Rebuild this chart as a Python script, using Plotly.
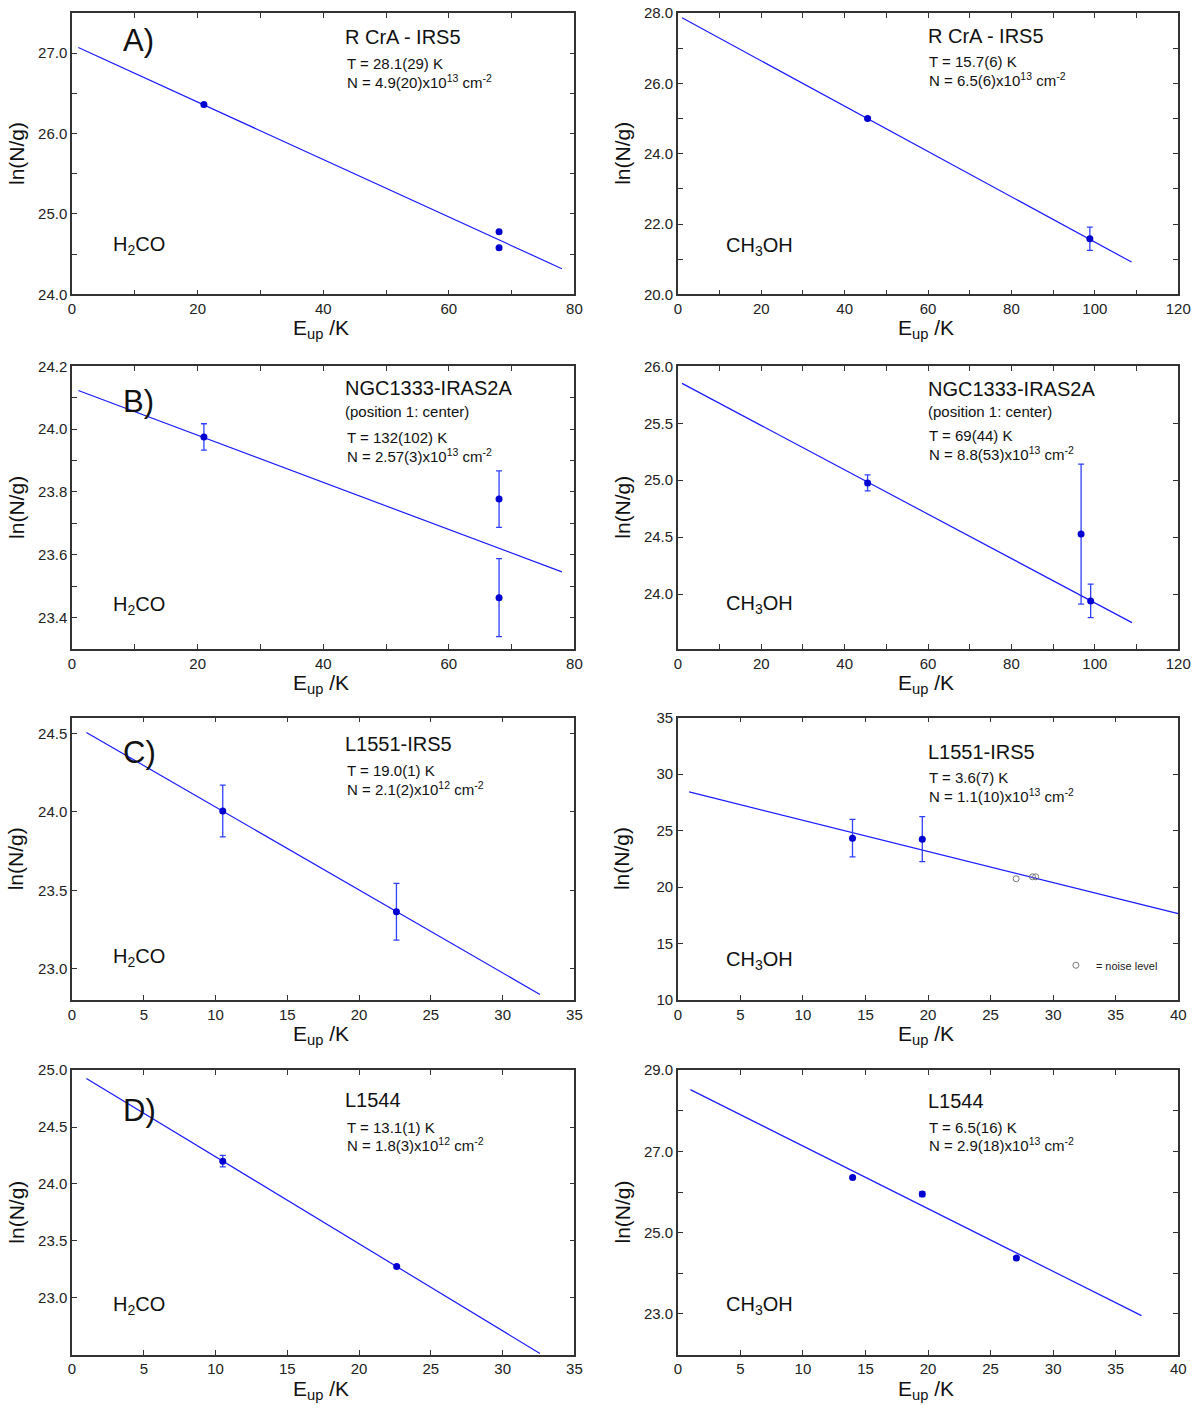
import plotly.graph_objects as go

W, H = 1200, 1408

# ---------------- data ----------------
# A) R CrA - IRS5
rcra_h2co_eup = [21.0, 68.0, 68.0]
rcra_h2co_lng = [26.36, 24.78, 24.58]
rcra_h2co_err = [0.01, 0.01, 0.01]
rcra_h2co_fit_eup = [1.0, 78.0]
rcra_h2co_fit_lng = [27.07, 24.32]

rcra_ch3oh_eup = [45.5, 98.8]
rcra_ch3oh_lng = [25.0, 21.58]
rcra_ch3oh_err = [0.03, 0.33]
rcra_ch3oh_fit_eup = [1.0, 108.8]
rcra_ch3oh_fit_lng = [27.86, 20.92]

# B) NGC1333-IRAS2A (position 1: center)
iras2a_h2co_eup = [21.0, 68.0, 68.0]
iras2a_h2co_lng = [23.975, 23.777, 23.463]
iras2a_h2co_err = [0.042, 0.09, 0.124]
iras2a_h2co_fit_eup = [1.0, 78.0]
iras2a_h2co_fit_lng = [24.123, 23.545]

iras2a_ch3oh_eup = [45.5, 96.7, 99.0]
iras2a_ch3oh_lng = [24.976, 24.527, 23.94]
iras2a_ch3oh_err = [0.07, 0.615, 0.147]
iras2a_ch3oh_fit_eup = [1.0, 108.9]
iras2a_ch3oh_fit_lng = [25.85, 23.75]

# C) L1551-IRS5
l1551_h2co_eup = [10.5, 22.6]
l1551_h2co_lng = [24.006, 23.364]
l1551_h2co_err = [0.165, 0.181]
l1551_h2co_fit_eup = [1.0, 32.6]
l1551_h2co_fit_lng = [24.506, 22.837]

l1551_ch3oh_eup = [13.96, 19.54]
l1551_ch3oh_lng = [24.34, 24.25]
l1551_ch3oh_err = [1.66, 1.99]
l1551_ch3oh_noise_eup = [27.04, 28.35, 28.6]
l1551_ch3oh_noise_lng = [20.75, 20.92, 20.92]
l1551_ch3oh_fit_eup = [0.9, 40.0]
l1551_ch3oh_fit_lng = [28.43, 17.66]

# D) L1544
l1544_h2co_eup = [10.5, 22.62]
l1544_h2co_lng = [24.2, 23.275]
l1544_h2co_err = [0.05, 0.01]
l1544_h2co_fit_eup = [1.0, 32.6]
l1544_h2co_fit_lng = [24.927, 22.51]

l1544_ch3oh_eup = [13.97, 19.54, 27.06]
l1544_ch3oh_lng = [26.36, 25.95, 24.38]
l1544_ch3oh_err = [0.03, 0.06, 0.03]
l1544_ch3oh_fit_eup = [1.0, 37.06]
l1544_ch3oh_fit_lng = [28.52, 22.96]

# text
sources = ["R CrA - IRS5", "NGC1333-IRAS2A", "L1551-IRS5", "L1544"]
panel_letters = ["A)", "B)", "C)", "D)"]
h2co_T = ["28.1(29)", "132(102)", "19.0(1)", "13.1(1)"]
h2co_N = ["4.9(20)x10<sup>13</sup>", "2.57(3)x10<sup>13</sup>",
          "2.1(2)x10<sup>12</sup>", "1.8(3)x10<sup>12</sup>"]
ch3oh_T = ["15.7(6)", "69(44)", "3.6(7)", "6.5(16)"]
ch3oh_N = ["6.5(6)x10<sup>13</sup>", "8.8(53)x10<sup>13</sup>",
           "1.1(10)x10<sup>13</sup>", "2.9(18)x10<sup>13</sup>"]

# tick labels
x_ticks_80 = [0, 20, 40, 60, 80]
x_ticks_120 = [0, 20, 40, 60, 80, 100, 120]
x_ticks_35 = [0, 5, 10, 15, 20, 25, 30, 35]
x_ticks_40 = [0, 5, 10, 15, 20, 25, 30, 35, 40]
y_ticks = [
    [24.0, 25.0, 26.0, 27.0],
    [20.0, 22.0, 24.0, 26.0, 28.0],
    [23.4, 23.6, 23.8, 24.0, 24.2],
    [24.0, 24.5, 25.0, 25.5, 26.0],
    [23.0, 23.5, 24.0, 24.5],
    [10, 15, 20, 25, 30, 35],
    [23.0, 23.5, 24.0, 24.5, 25.0],
    [23.0, 25.0, 27.0, 29.0],
]

# ---------------- figure ----------------
FONT = "Liberation Sans, Arial, sans-serif"
MARK = "#0000d0"
ERRC = "#3040ff"
LINE = "#1a1aff"
FRAME = "#333333"

# the photographed page comes out slightly shrunk; undo that when placing things
SX, OX = 0.991, 2.6
SY, OY = 0.9896, 7.1


def px(x):
    # picture pixel -> paper fraction
    return (x - OX) / SX / W


def py(y):
    return 1 - (y - OY) / SY / H


# pixel boxes of the frames in the picture
col_x = [(71, 576), (680, 1183)]
row_y = [(11, 293), (365, 648), (717, 1000), (1070, 1355)]

panels = [
    dict(eup=rcra_h2co_eup, lng=rcra_h2co_lng, err=rcra_h2co_err,
         fx=rcra_h2co_fit_eup, fy=rcra_h2co_fit_lng,
         xr=[0, 80], xt=x_ticks_80, xm=10, yr=[24.0, 27.5], ym=0.5, yf=".1f"),
    dict(eup=rcra_ch3oh_eup, lng=rcra_ch3oh_lng, err=rcra_ch3oh_err,
         fx=rcra_ch3oh_fit_eup, fy=rcra_ch3oh_fit_lng,
         xr=[0, 120], xt=x_ticks_120, xm=10, yr=[20.0, 28.0], ym=1.0, yf=".1f"),
    dict(eup=iras2a_h2co_eup, lng=iras2a_h2co_lng, err=iras2a_h2co_err,
         fx=iras2a_h2co_fit_eup, fy=iras2a_h2co_fit_lng,
         xr=[0, 80], xt=x_ticks_80, xm=10, yr=[23.3, 24.2], ym=0.1, yf=".1f"),
    dict(eup=iras2a_ch3oh_eup, lng=iras2a_ch3oh_lng, err=iras2a_ch3oh_err,
         fx=iras2a_ch3oh_fit_eup, fy=iras2a_ch3oh_fit_lng,
         xr=[0, 120], xt=x_ticks_120, xm=10, yr=[23.52, 26.0], ym=None, yf=".1f"),
    dict(eup=l1551_h2co_eup, lng=l1551_h2co_lng, err=l1551_h2co_err,
         fx=l1551_h2co_fit_eup, fy=l1551_h2co_fit_lng,
         xr=[0, 35], xt=x_ticks_35, xm=None, yr=[22.8, 24.6], ym=None, yf=".1f"),
    dict(eup=l1551_ch3oh_eup, lng=l1551_ch3oh_lng, err=l1551_ch3oh_err,
         fx=l1551_ch3oh_fit_eup, fy=l1551_ch3oh_fit_lng,
         xr=[0, 40], xt=x_ticks_40, xm=None, yr=[10, 35], ym=None, yf="d"),
    dict(eup=l1544_h2co_eup, lng=l1544_h2co_lng, err=l1544_h2co_err,
         fx=l1544_h2co_fit_eup, fy=l1544_h2co_fit_lng,
         xr=[0, 35], xt=x_ticks_35, xm=None, yr=[22.5, 25.0], ym=None, yf=".1f"),
    dict(eup=l1544_ch3oh_eup, lng=l1544_ch3oh_lng, err=l1544_ch3oh_err,
         fx=l1544_ch3oh_fit_eup, fy=l1544_ch3oh_fit_lng,
         xr=[0, 40], xt=x_ticks_40, xm=None, yr=[22.0, 29.0], ym=1.0, yf=".1f"),
]

fig = go.Figure()
layout = {}
annotations = []


def label(text, x, y, size, xanchor="left", **kw):
    annotations.append(dict(
        text=text, x=px(x), y=py(y), xref="paper", yref="paper",
        xanchor=xanchor, yanchor="middle", showarrow=False,
        font=dict(family=FONT, size=size, color="#111111"), **kw,
    ))


for i, p in enumerate(panels):
    n = i + 1
    sfx = "" if n == 1 else str(n)
    row, col = divmod(i, 2)
    x0, x1 = col_x[col]
    y0, y1 = row_y[row]

    # fit line
    fig.add_trace(go.Scatter(
        x=p["fx"], y=p["fy"], mode="lines",
        line=dict(color=LINE, width=1.2),
        xaxis="x" + sfx, yaxis="y" + sfx, showlegend=False,
    ))
    # measured points
    fig.add_trace(go.Scatter(
        x=p["eup"], y=p["lng"], mode="markers",
        marker=dict(color=MARK, size=7),
        error_y=dict(type="data", array=p["err"], color=ERRC,
                     thickness=1.3, width=3),
        xaxis="x" + sfx, yaxis="y" + sfx, showlegend=False,
    ))

    axis_common = dict(
        showline=True, linecolor=FRAME, linewidth=1.5, mirror="ticks",
        ticks="inside", ticklen=5, tickcolor=FRAME, tickwidth=1,
        showgrid=False, zeroline=False,
        tickfont=dict(family=FONT, size=15, color="#222222"),
    )
    xa = dict(axis_common, domain=[px(x0), px(x1)], range=p["xr"],
              tickmode="array", tickvals=p["xt"], anchor="y" + sfx)
    if p["xm"]:
        xa["minor"] = dict(dtick=p["xm"], tick0=0, ticks="inside",
                           ticklen=5, tickcolor=FRAME)
    ya = dict(axis_common, domain=[py(y1), py(y0)], range=p["yr"],
              tickmode="array", tickvals=y_ticks[i], tickformat=p["yf"],
              anchor="x" + sfx)
    if p["ym"]:
        ya["minor"] = dict(dtick=p["ym"], tick0=y_ticks[i][0], ticks="inside",
                           ticklen=5, tickcolor=FRAME)
    layout["xaxis" + sfx] = xa
    layout["yaxis" + sfx] = ya

    # axis titles
    label("ln(N/g)", x0 - 56, (y0 + y1) / 2, 21, xanchor="center", textangle=-90)
    label("E<sub>up</sub> /K", (x0 + x1) / 2 - 2, y1 + 35, 21, xanchor="center")

# noise-level points in the L1551 CH3OH panel
fig.add_trace(go.Scatter(
    x=l1551_ch3oh_noise_eup, y=l1551_ch3oh_noise_lng, mode="markers",
    marker=dict(symbol="circle-open", color="#777777", size=6, line=dict(width=1)),
    xaxis="x6", yaxis="y6", name="= noise level", showlegend=True,
))

# per-panel texts (positions in picture pixels)
for r in range(4):
    # left column: H2CO
    lx = 343
    ty = [35, 387, 743, 1100][r]
    label(panel_letters[r], 120, [39, 400, 752, 1110][r], 31)
    label(sources[r], lx, ty, 20)
    off = 0
    if r == 1:
        label("(position 1: center)", lx, ty + 23, 15)
        off = 22
    label("T = %s K" % h2co_T[r], lx + 2, ty + 27 + off, 15)
    label("N = %s cm<sup>-2</sup>" % h2co_N[r], lx + 2, ty + 45 + off, 15)
    label("H<sub>2</sub>CO", 110, [244, 605, 957, 1306][r], 20)

    # right column: CH3OH
    rx = 929
    ty = [34, 388, 751, 1101][r]
    label(sources[r], rx, ty, 20)
    off = 0
    if r == 1:
        label("(position 1: center)", rx, ty + 22, 15)
        off = 20
    label("T = %s K" % ch3oh_T[r], rx + 1, ty + 26 + off, 15)
    label("N = %s cm<sup>-2</sup>" % ch3oh_N[r], rx + 1, ty + 44 + off, 15)
    label("CH<sub>3</sub>OH", 726, [245, 604, 960, 1306][r], 20)

fig.update_layout(
    width=W, height=H,
    margin=dict(l=0, r=0, t=0, b=0),
    paper_bgcolor="white", plot_bgcolor="white",
    annotations=annotations,
    legend=dict(x=px(1060), y=py(965), xanchor="left", yanchor="middle",
                bgcolor="rgba(0,0,0,0)", itemwidth=30,
                font=dict(family=FONT, size=11, color="#222")),
    **layout,
)

# figure flush with the page corner, no toolbar
fig.write_html("out.html", config={"displayModeBar": False},
               post_script="document.body.style.margin = '0px';")
